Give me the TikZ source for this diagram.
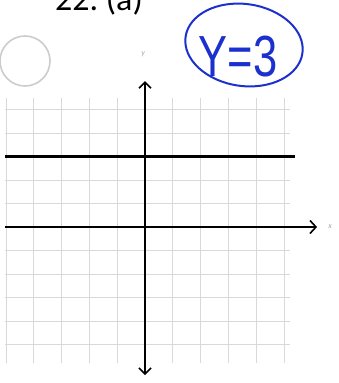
\documentclass[tikz,border=0pt]{standalone}
\usepackage{fontspec}
\setmainfont{Carlito}
\newfontfamily\handfont{Liberation Sans}
\usetikzlibrary{arrows.meta}
\definecolor{inkblue}{RGB}{28,48,205}
\begin{document}
\begin{tikzpicture}[
        x=1pt, y=-1pt,
        gridline/.style={gray!30, line width=0.9pt},
        axisline/.style={black, line width=1.1pt},
        tipbarb/.style={-{Straight Barb[length=6pt, width=13pt, line width=1.6pt]}},
        axislabel/.style={gray!70, font=\fontsize{8}{8}\selectfont\itshape, inner sep=0pt}
    ]
        \useasboundingbox (0,0) rectangle (339,383);

        % Problem number, cut off at the top edge
        \node[anchor=base west, inner sep=0pt, font=\fontsize{34}{34}\selectfont] (probnum) at (55,10) {22.\ (a)};

        % Empty answer bubble
        \draw[gray!40, line width=1.6pt] (25,61) circle (25);

        % Handwritten answer, circled in blue
        \draw[inkblue, line width=2pt, rotate around={-8:(244,45)}] (244,45) ellipse (59 and 41);
        \node[inkblue, inner sep=0pt, xscale=0.75, font=\handfont\fontsize{58}{58}\selectfont] (answer) at (238,57) {Y=3};

        \begin{scope}[shift={(145,227)}, x=27.8pt, y=23.5pt]
            % Grid
            \foreach \i in {-5,...,5} {
                \draw[gridline] (\i,-5.8) -- (\i,5.5);
                \draw[gridline] (-5.04,\i) -- (5.2,\i);
            }

            % Axes
            \coordinate (xstart) at (-5.04,0);
            \coordinate (xend) at (6.19,0);
            \coordinate (ystart) at (0,-6.3);
            \coordinate (yend) at (0,6.21);
            \draw[axisline, tipbarb] (xstart) -- (xend);
            \draw[axisline, {Straight Barb[length=6pt, width=12pt, line width=1.6pt]}-{Straight Barb[length=6pt, width=12pt, line width=1.6pt]}] (ystart) -- (yend);
            \node[axislabel] (xlabel) at (6.66,0) {x};
            \node[axislabel] (ylabel) at (-0.07,7.35) {y};

            % Graph of y = 3
            \draw[black, line width=3pt] (-5.04,3) -- (5.4,3);
        \end{scope}
    \end{tikzpicture}
\end{document}
